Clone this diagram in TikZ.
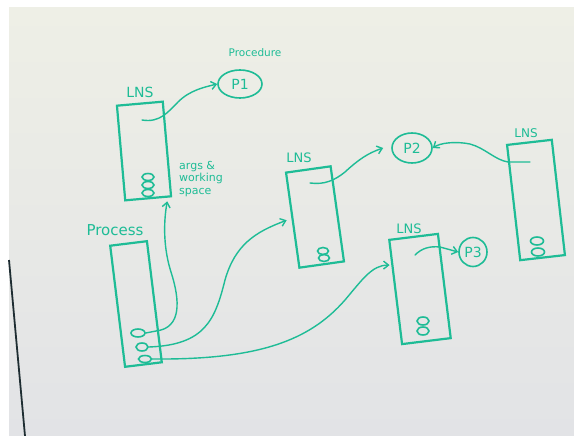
\documentclass[tikz,border=0pt]{standalone}
\usepackage{fontspec}
\setmainfont{DejaVu Sans}
\usetikzlibrary{shapes.geometric,arrows.meta}
\definecolor{marker}{RGB}{30,188,150}
\definecolor{boardtop}{RGB}{238,239,230}
\definecolor{boardbot}{RGB}{226,227,230}
\definecolor{frameedge}{RGB}{30,45,50}
\tikzset{
  lnsbox/.style={draw=marker, line width=2.2pt, inner sep=0pt},
  lbl/.style={text=marker, inner sep=0pt, font=\fontsize{14}{14}\selectfont},
  procnode/.style={ellipse, draw=marker, line width=1.6pt, text=marker, inner sep=0pt, font=\fontsize{14}{14}\selectfont},
  coil/.style={ellipse, draw=marker, line width=1.6pt, inner sep=0pt, minimum width=12pt, minimum height=7pt},
  link/.style={draw=marker, line width=1.4pt, line cap=round, -{Straight Barb[length=5pt,width=8pt]}},
}
\begin{document}
\begin{tikzpicture}[x=1pt,y=-1pt]
\useasboundingbox (0,0) rectangle (574,436);
\fill[white] (0,0) rectangle (574,436);
\shade[top color=boardtop, bottom color=boardbot] (9,8) rectangle (574,436);
\draw[frameedge, line width=1.8pt] (9,260) -- (25,436);

% LNS boxes
\node[lnsbox, minimum width=46pt, minimum height=95pt, rotate=5] (lns1) at (144,151) {};
\node[lnsbox, minimum width=45pt, minimum height=96pt, rotate=8] (lns2) at (315,217) {};
\node[lnsbox, minimum width=49pt, minimum height=105pt, rotate=7] (lns3) at (420,289) {};
\node[lnsbox, minimum width=45pt, minimum height=116pt, rotate=6.5] (lns4) at (536,200) {};
\node[lnsbox, minimum width=37pt, minimum height=122pt, rotate=7] (proc) at (136,304) {};

% labels
\node[lbl] (lns1l) at (140,92) {LNS};
\node[lbl, font=\fontsize{13}{13}\selectfont] (lns2l) at (299,158) {LNS};
\node[lbl, font=\fontsize{13}{13}\selectfont] (lns3l) at (409,229) {LNS};
\node[lbl, font=\fontsize{12}{12}\selectfont] (lns4l) at (526,133) {LNS};
\node[lbl, font=\fontsize{15}{15}\selectfont] (procl) at (115,230) {Process};
\node[lbl, font=\fontsize{10.5}{10.5}\selectfont] (procedurel) at (255,53) {Procedure};
\node[lbl, font=\fontsize{11}{12.5}\selectfont, align=left, anchor=north west] (args) at (179,161) {args \&\\working\\space};

% procedures
\node[procnode, minimum width=44pt, minimum height=28pt] (p1) at (240,84) {P1};
\node[procnode, minimum width=40pt, minimum height=30pt] (p2) at (412,148) {P2};
\node[procnode, minimum width=28pt, minimum height=29pt] (p3) at (473,252) {P3};

% coils in LNS boxes
\node[coil] (c11) at (148,177) {};
\node[coil] (c12) at (148,185) {};
\node[coil] (c13) at (148,193) {};
\node[coil, minimum width=11pt, minimum height=7pt] (c21) at (323,251) {};
\node[coil, minimum width=11pt, minimum height=7pt] (c22) at (324,258) {};
\node[coil, minimum width=12pt, minimum height=8pt] (c31) at (423,321) {};
\node[coil, minimum width=12pt, minimum height=8pt] (c32) at (423,331) {};
\node[coil, minimum width=13pt, minimum height=8pt] (c41) at (537,241) {};
\node[coil, minimum width=13pt, minimum height=8pt] (c42) at (538,252) {};

% coils in process
\node[coil, minimum width=14pt, minimum height=8pt] (pc1) at (138,333) {};
\node[coil, minimum width=12pt, minimum height=8pt] (pc2) at (142,347) {};
\node[coil, minimum width=13pt, minimum height=7pt] (pc3) at (145,359) {};

% start points inside LNS boxes
\coordinate (s1) at (142,120);
\coordinate (s2) at (310,183);
\coordinate (s3) at (415,255);
\coordinate (s4) at (530,162);

% arrows
\draw[link] (s1) .. controls (160,123) and (168,112) .. (178,102)
               .. controls (190,90) and (205,87) .. (p1.west);
\draw[link] (s2) .. controls (325,185) and (335,180) .. (345,172)
               .. controls (358,160) and (368,153) .. ([xshift=-8pt]p2.west);
\draw[link] (s3) .. controls (422,248) and (430,246) .. (440,247) -- (p3.west);
\draw[link] (s4) -- (508,162) .. controls (495,160) and (485,148) .. (470,144)
               .. controls (455,141) and (440,143) .. (p2.east);

\draw[link] (pc1.east) -- (156,331) .. controls (182,328) and (180,300) .. (171,272)
               .. controls (164,250) and (163,225) .. ([xshift=-5pt,yshift=-4pt]lns1.south east);
\draw[link] (pc2.east) .. controls (205,345) and (215,320) .. (225,280)
               .. controls (235,245) and (255,232) .. ([xshift=-5pt]lns2.west);
\draw[link] (pc3.east) .. controls (260,360) and (310,340) .. (345,300)
               .. controls (362,280) and (372,265) .. ([xshift=-5pt,yshift=27pt]lns3.west);
\end{tikzpicture}
\end{document}
